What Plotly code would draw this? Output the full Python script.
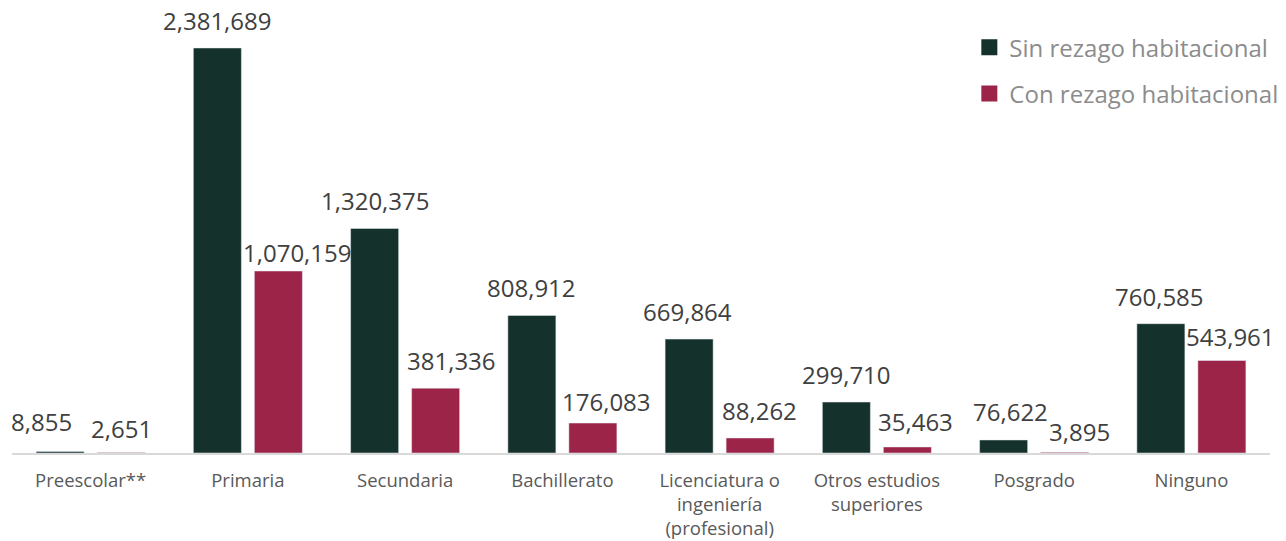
import plotly.graph_objects as go

categories = ["Preescolar**", "Primaria", "Secundaria", "Bachillerato",
              "Licenciatura o<br>ingeniería<br>(profesional)", "Otros estudios<br>superiores",
              "Posgrado", "Ninguno"]
sin_rezago = [8855, 2381689, 1320375, 808912, 669864, 299710, 76622, 760585]
con_rezago = [2651, 1070159, 381336, 176083, 88262, 35463, 3895, 543961]

series_names = ["Sin rezago habitacional", "Con rezago habitacional"]
series_colors = ["#15312B", "#9D2449"]

# label nudges (pixels) to avoid overlaps, as in the original
sin_label_dx = [-19, 0, 0, 0, -2, 0, 7, -1]
sin_label_dy = [2, 0, 0, 0, 0, 0, 1, 0]
con_label_dx = [0, 19, 16, 14, 9, 8, 15, 9]
con_label_dy = [-3, -9, 0, -6, 0, -2, -7, -3]

fig = go.Figure()
for vals, name, color in zip((sin_rezago, con_rezago), series_names, series_colors):
    fig.add_trace(go.Bar(x=categories, y=vals, name=name, marker_color=color,
                         showlegend=False))

# legend entries with larger square swatches
for i, (name, color) in enumerate(zip(series_names, series_colors)):
    fig.add_trace(go.Scatter(x=[categories[0]], y=[None], mode="markers", name=name,
                             marker=dict(symbol="square", size=16, color=color),
                             legendgroup=str(i), showlegend=True, hoverinfo="skip"))

annotations = []
for vals, base, dxs, dys in ((sin_rezago, -30.5, sin_label_dx, sin_label_dy),
                             (con_rezago, 30.5, con_label_dx, con_label_dy)):
    for cat, v, dx, dy in zip(categories, vals, dxs, dys):
        annotations.append(dict(
            x=cat, y=v, xref="x", yref="y", text=f"{v:,}", showarrow=False,
            xanchor="center", yanchor="bottom", xshift=base + dx, yshift=9 + dy,
            font=dict(size=24, color="#404040", family="Open Sans"),
        ))

fig.update_layout(
    width=1286, height=541,
    margin=dict(l=12, r=16, t=5, b=88, autoexpand=False),
    plot_bgcolor="white", paper_bgcolor="white",
    font=dict(family="Open Sans", color="#595959"),
    barmode="group", bargap=0.224, bargroupgap=0.213,
    showlegend=True,
    annotations=annotations,
    legend=dict(x=0.761, xanchor="left", y=0.955, yanchor="top",
                font=dict(size=24, color="#8c8c8c"),
                traceorder="grouped", tracegroupgap=12,
                bgcolor="rgba(0,0,0,0)"),
    xaxis=dict(showline=True, linecolor="#d9d9d9", linewidth=2,
               tickfont=dict(size=18.5, color="#595959"), ticks="",
               ticklabelstandoff=10, automargin=False,
               type="category", categoryorder="array", categoryarray=categories,
               range=[-0.5, len(categories) - 0.5]),
    yaxis=dict(visible=False, range=[0, 2634600], automargin=False),
)

fig.write_html("out.html")
